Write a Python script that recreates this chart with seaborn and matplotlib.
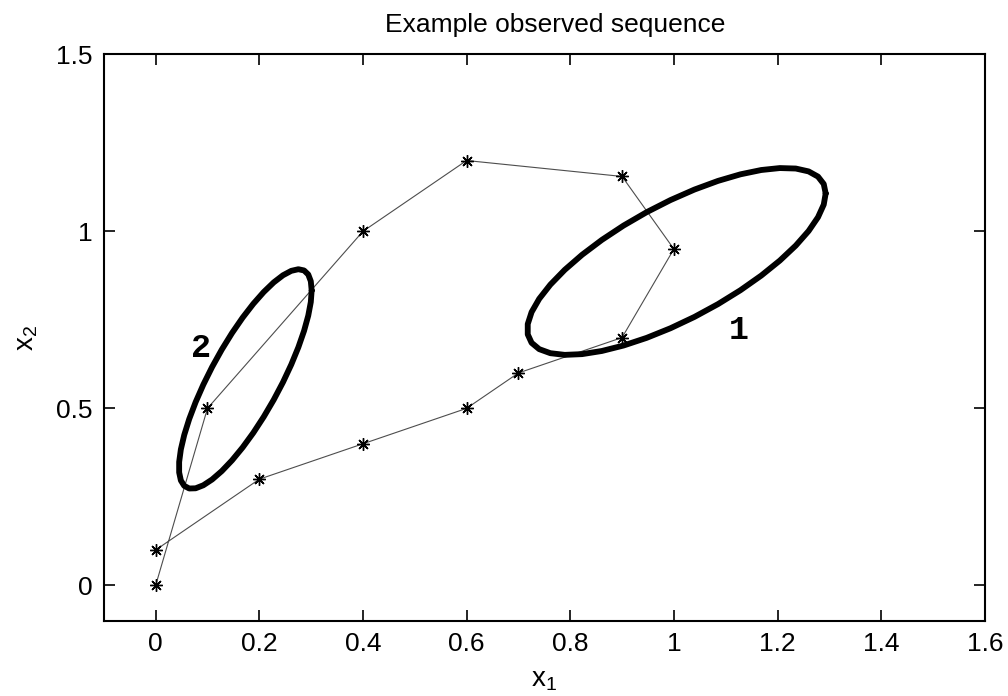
import matplotlib
matplotlib.use("Agg")
import matplotlib.pyplot as plt
import numpy as np
import pandas as pd
import seaborn as sns

# observed sequence, in visiting order
seq_x = [0.0, 0.1, 0.4, 0.6, 0.9, 1.0, 0.9, 0.7, 0.6, 0.4, 0.2, 0.0]
seq_y = [0.0, 0.5, 1.0, 1.2, 1.155, 0.95, 0.7, 0.6, 0.5, 0.4, 0.3, 0.1]

# contour ellipses: centre and covariance (sxx, sxy, syy)
ell_names = ["1", "2"]
ell_centres = [(1.005, 0.915), (0.173, 0.583)]
ell_covs = [(0.0829, 0.0553, 0.0697), (0.0164, 0.032, 0.0961)]
ell_label_pos = [(1.125, 0.72), (0.088, 0.67)]


def ellipse_points(centre, cov, n=40):
    sxx, sxy, syy = cov
    chol = np.linalg.cholesky(np.array([[sxx, sxy], [sxy, syy]]))
    t = np.linspace(0, 2 * np.pi, n)
    pts = chol @ np.vstack([np.cos(t), np.sin(t)])
    return pd.DataFrame({"x": pts[0] + centre[0], "y": pts[1] + centre[1]})


sns.set_style("ticks")
plt.rcParams["font.family"] = ["Liberation Sans", "DejaVu Sans"]
plt.rcParams["mathtext.default"] = "regular"
plt.rcParams["text.color"] = "black"
plt.rcParams["axes.labelcolor"] = "black"

fig = plt.figure(figsize=(10.08, 6.96), dpi=100)
ax = fig.add_axes([0.103, 0.108, 0.874, 0.814])

seq_df = pd.DataFrame({"x": seq_x, "y": seq_y})
sns.lineplot(data=seq_df, x="x", y="y", sort=False, estimator=None, ax=ax,
             color="0.3", linewidth=0.8, marker=(8, 2, 0), markersize=9,
             markeredgecolor="black", markeredgewidth=1.0)

for name, centre, cov, pos in zip(ell_names, ell_centres, ell_covs, ell_label_pos):
    edf = ellipse_points(centre, cov)
    sns.lineplot(data=edf, x="x", y="y", sort=False, estimator=None, ax=ax,
                 color="black", linewidth=4.2)
    ax.text(pos[0], pos[1], name, fontsize=24, fontweight="bold", color="black",
            family=["Liberation Mono", "DejaVu Sans Mono"], ha="center", va="center")

ax.set_xlim(-0.1, 1.6)
ax.set_ylim(-0.1, 1.5)
ax.set_xticks([0, 0.2, 0.4, 0.6, 0.8, 1, 1.2, 1.4, 1.6])
ax.set_xticklabels(["0", "0.2", "0.4", "0.6", "0.8", "1", "1.2", "1.4", "1.6"])
ax.set_yticks([0, 0.5, 1, 1.5])
ax.set_yticklabels(["0", "0.5", "1", "1.5"])
ax.tick_params(direction="in", top=True, right=True, length=8, width=1.2,
               labelsize=19, pad=8, colors="black")
for s in ax.spines.values():
    s.set_visible(True)
    s.set_linewidth(1.5)
    s.set_color("black")

ax.set_title("Example observed sequence", fontsize=19, pad=16, color="black", x=0.512)
ax.set_xlabel("x$_1$", fontsize=20, labelpad=8)
ax.set_ylabel("x$_2$", fontsize=20, labelpad=12)

fig.savefig("out.png", dpi=100)
